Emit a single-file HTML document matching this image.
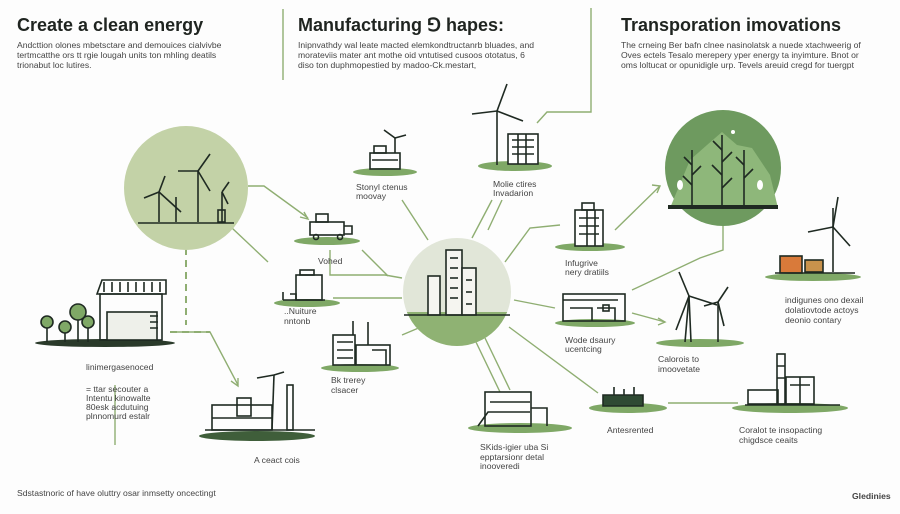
<!DOCTYPE html>
<html><head><meta charset="utf-8"><style>
body{margin:0;background:#fff;}
svg{display:block;font-family:"Liberation Sans",sans-serif;}
.t{font-size:18px;font-weight:bold;fill:#1f2420;}
.b{font-size:8.6px;fill:#444;}
.l{font-size:8.6px;fill:#444;}
.k{stroke:#1f2a22;stroke-width:1.6;fill:none;}
.kf{fill:#1f2a22;}
.g{stroke:#8fae72;stroke-width:1.4;fill:none;}
.e{fill:#7fa866;}
</style></head><body>
<svg width="900" height="514" viewBox="0 0 900 514">
<rect width="900" height="514" fill="#fdfdfd"/>
<text class="t" x="17" y="31">Create a clean energy</text>
<text class="b" x="17" y="48">Andcttion olones mbetsctare and demouices cialvivbe</text>
<text class="b" x="17" y="58">tertmcatthe ors tt rgie lougah units ton mhling deatils</text>
<text class="b" x="17" y="68">trionabut loc lutires.</text>
<line x1="283" y1="9" x2="283" y2="80" stroke="#8fae72" stroke-width="1.4"/>
<text class="t" x="298" y="31">Manufacturing ⅁ hapes:</text>
<text class="b" x="298" y="48">Inipnvathdy wal leate macted elemkondtructanrb bluades, and</text>
<text class="b" x="298" y="58">morateviis mater ant mothe oid vntutised cusoos ototatus, 6</text>
<text class="b" x="298" y="68">diso ton duphmopestied by madoo-Ck.mestart,</text>
<polyline class="g" points="591,8 591,112 547,112 537,123"/>
<text class="t" x="621" y="31">Transporation imovations</text>
<text class="b" x="621" y="48">The crneing Ber bafn clnee nasinolatsk a nuede xtachweerig of</text>
<text class="b" x="621" y="58">Oves ectels Tesalo merepery yper energy ta inyimture. Bnot or</text>
<text class="b" x="621" y="68">oms loltucat or opunidigle urp. Tevels areuid cregd for tuergpt</text>

<g class="g">
<polyline points="248,186 264,186 308,218"/><path d="M300,217 L308,219 L304,212"/>
<line x1="232" y1="228" x2="268" y2="262"/>
<line x1="402" y1="200" x2="428" y2="240"/>
<line x1="492" y1="200" x2="472" y2="238"/>
<line x1="502" y1="200" x2="488" y2="230"/>
<line x1="362" y1="250" x2="388" y2="276"/>
<polyline points="330,250 330,275 385,275 402,278"/>
<line x1="333" y1="298" x2="402" y2="298"/>
<polyline points="402,335 428,324"/><path d="M420,322 L428,324 L423,330"/>
<polyline points="505,262 530,228 560,225"/>
<line x1="514" y1="300" x2="555" y2="308"/>
<line x1="509" y1="327" x2="598" y2="393"/>
<line x1="475" y1="340" x2="500" y2="392"/>
<line x1="485" y1="338" x2="510" y2="390"/>
<line x1="615" y1="230" x2="660" y2="186"/><path d="M652,185 L660,186 L657,193"/>
<line x1="632" y1="313" x2="665" y2="322"/><path d="M658,318 L665,322 L658,325"/>
<line x1="668" y1="403" x2="738" y2="403"/>
<polyline points="723,226 723,250 700,258 632,290"/>
<line x1="115" y1="385" x2="115" y2="445" />
</g>
<g stroke="#8fae72" stroke-width="2" fill="none" stroke-dasharray="7,5">
<line x1="186" y1="248" x2="186" y2="325"/>
<polyline points="170,332 210,332"/>
</g>
<polyline class="g" points="170,332 210,332 238,385"/><path class="g" d="M231,381 L238,386 L238,378"/>

<circle cx="186" cy="188" r="62" fill="#c3d2a7"/>
<g class="k">
<line x1="138" y1="223" x2="234" y2="223"/>
<line x1="159" y1="222" x2="159" y2="192"/><line x1="159" y1="192" x2="144" y2="198"/><line x1="159" y1="192" x2="181" y2="212"/><line x1="159" y1="192" x2="165" y2="176"/>
<line x1="198" y1="222" x2="198" y2="171"/><line x1="198" y1="171" x2="178" y2="171"/><line x1="198" y1="171" x2="210" y2="154"/><line x1="198" y1="171" x2="210" y2="191"/>
<line x1="176" y1="222" x2="176" y2="197"/>
<line x1="222" y1="222" x2="222" y2="192"/><line x1="222" y1="192" x2="229" y2="182"/><line x1="222" y1="192" x2="228" y2="204"/>
<rect x="218" y="210" width="7" height="12"/>
</g>

<clipPath id="cc"><circle cx="457" cy="292" r="54"/></clipPath>
<circle cx="457" cy="292" r="54" fill="#e1e6d8"/>
<rect x="400" y="312" width="120" height="40" fill="#8fb273" clip-path="url(#cc)"/>
<g class="k" stroke-width="1.3">
<rect x="446" y="250" width="16" height="65" fill="#f5f5f0"/>
<rect x="462" y="268" width="14" height="47" fill="#f5f5f0"/>
<rect x="428" y="276" width="12" height="39" fill="#f5f5f0"/>
<line x1="404" y1="315" x2="510" y2="315"/>
<line x1="450" y1="258" x2="458" y2="258"/><line x1="450" y1="268" x2="458" y2="268"/><line x1="450" y1="278" x2="458" y2="278"/><line x1="450" y1="288" x2="458" y2="288"/><line x1="450" y1="298" x2="458" y2="298"/>
<line x1="466" y1="280" x2="472" y2="280"/><line x1="466" y1="292" x2="472" y2="292"/><line x1="466" y1="304" x2="472" y2="304"/>
</g>

<circle cx="723" cy="168" r="58" fill="#6e9a5f"/>
<path d="M670,208 L690,160 L707,145 L722,132 L737,145 L752,148 L770,175 L778,208 Z" fill="#8eb77a"/>
<rect x="668" y="205" width="110" height="4" class="kf"/>
<g class="k" stroke-width="1.4">
<line x1="692" y1="205" x2="692" y2="150"/><line x1="722" y1="205" x2="722" y2="135"/><line x1="744" y1="205" x2="744" y2="150"/>
<path d="M692,165 l-8,-8 M692,175 l9,-9 M692,185 l-9,-9 M722,150 l-9,-9 M722,162 l10,-10 M722,175 l-10,-10 M722,188 l10,-10 M744,165 l-8,-8 M744,178 l9,-9"/>
</g>
<ellipse cx="680" cy="185" rx="3" ry="5" fill="#fff"/><ellipse cx="760" cy="185" rx="3" ry="5" fill="#fff"/><circle cx="733" cy="132" r="2" fill="#fff"/>

<g class="e">
<ellipse cx="515" cy="166" rx="37" ry="5"/>
<ellipse cx="385" cy="172" rx="32" ry="4"/>
<ellipse cx="327" cy="241" rx="33" ry="4"/>
<ellipse cx="590" cy="247" rx="35" ry="4"/>
<ellipse cx="813" cy="277" rx="48" ry="4"/>
<ellipse cx="307" cy="303" rx="33" ry="4"/>
<ellipse cx="105" cy="343" rx="70" ry="4" fill="#2a3a2a"/>
<ellipse cx="360" cy="368" rx="39" ry="4"/>
<ellipse cx="595" cy="323" rx="40" ry="4"/>
<ellipse cx="700" cy="343" rx="44" ry="4"/>
<ellipse cx="257" cy="436" rx="58" ry="5" fill="#3f5e3a"/>
<ellipse cx="520" cy="428" rx="52" ry="5"/>
<ellipse cx="628" cy="408" rx="39" ry="5"/>
<ellipse cx="790" cy="408" rx="58" ry="5"/>
</g>

<g class="k" stroke-width="1.3">
<line x1="497" y1="165" x2="497" y2="111"/><line x1="497" y1="111" x2="472" y2="114"/><line x1="497" y1="111" x2="507" y2="84"/><line x1="497" y1="111" x2="523" y2="121"/>
<rect x="508" y="134" width="30" height="30" fill="#fff"/>
<path d="M512,140h22M512,147h22M512,154h22M518,134v30M526,134v30"/>
<rect x="370" y="153" width="30" height="16"/><rect x="374" y="146" width="12" height="7"/><line x1="395" y1="153" x2="395" y2="138"/><line x1="395" y1="138" x2="384" y2="130"/><line x1="395" y1="138" x2="406" y2="135"/>
<path d="M372,160h26"/>
<rect x="310" y="222" width="34" height="13"/><rect x="316" y="214" width="12" height="8"/><circle cx="316" cy="237" r="2.5"/><circle cx="340" cy="237" r="2.5"/><path d="M344,226h8v8h-8"/>
<rect x="575" y="210" width="28" height="36" fill="#fff"/><rect x="582" y="203" width="12" height="7"/>
<path d="M579,218h20M579,226h20M579,234h20M587,210v36M595,210v36"/>
<rect x="780" y="256" width="22" height="17" fill="#d97a3a"/><rect x="805" y="260" width="18" height="12" fill="#c8924c"/>
<line x1="833" y1="272" x2="833" y2="208"/><line x1="833" y1="227" x2="808" y2="232"/><line x1="833" y1="227" x2="838" y2="197"/><line x1="833" y1="227" x2="850" y2="246"/>
<line x1="775" y1="273" x2="855" y2="273"/>
<rect x="296" y="275" width="26" height="25"/><rect x="300" y="270" width="14" height="5"/><path d="M283,300h42M283,292v8M290,294h6v6"/>
<path d="M97,294 L102,280 L166,280 L166,294 Z" fill="#fff"/><path d="M104,282v10M112,282v10M120,282v10M128,282v10M136,282v10M144,282v10M152,282v10M160,282v10"/>
<rect x="100" y="294" width="62" height="46"/><rect x="107" y="312" width="50" height="28" fill="#eef0ea"/><path d="M150,316h8M150,322h8M150,328h8"/>
<g fill="#7fa866"><circle cx="47" cy="322" r="6"/><circle cx="65" cy="327" r="6"/><circle cx="78" cy="312" r="8"/><circle cx="88" cy="322" r="6"/></g>
<path d="M47,328v14M65,333v9M78,320v22M88,328v14"/>
<rect x="333" y="335" width="22" height="30"/><rect x="356" y="345" width="34" height="20"/><line x1="353" y1="335" x2="353" y2="321"/><line x1="368" y1="345" x2="368" y2="322"/><path d="M337,342h16M337,350h16M337,358h16M372,350h14v15"/>
<rect x="563" y="294" width="62" height="27"/><path d="M563,300h55M570,308h22v13M597,308h18v13"/><rect x="603" y="305" width="6" height="6"/>
<line x1="685" y1="342" x2="689" y2="296"/><line x1="691" y1="342" x2="689" y2="296"/><line x1="689" y1="296" x2="679" y2="272"/><line x1="689" y1="296" x2="676" y2="330"/><line x1="689" y1="296" x2="717" y2="305"/>
<line x1="718" y1="342" x2="718" y2="302"/><line x1="718" y1="302" x2="728" y2="287"/><line x1="718" y1="302" x2="704" y2="306"/><line x1="718" y1="302" x2="724" y2="326"/>
<rect x="212" y="405" width="60" height="25"/><rect x="237" y="398" width="14" height="18"/><line x1="272" y1="430" x2="274" y2="375"/><line x1="274" y1="375" x2="257" y2="378"/><line x1="274" y1="375" x2="284" y2="372"/><rect x="287" y="385" width="6" height="45"/><path d="M205,430h110M212,418h60"/>
<rect x="485" y="392" width="46" height="34"/><path d="M478,426l10,-14h10M490,402h40M490,412h40M531,408h16v18"/>
<path d="M603,395h40v11h-40z" fill="#2f4a33"/><path d="M614,395v-8M624,395v-6M634,395v-8"/>
<rect x="777" y="354" width="8" height="50"/><rect x="748" y="390" width="30" height="14"/><rect x="786" y="377" width="28" height="27"/><path d="M745,405h95M777,366h8M777,378h8M790,385h20M800,377v27"/>
</g>

<text class="l" x="356" y="190">Stonyl ctenus</text><text class="l" x="356" y="199">moovay</text>
<text class="l" x="493" y="187">Molie ctires</text><text class="l" x="493" y="196">Invadarion</text>
<text class="l" x="318" y="264">Vohed</text>
<text class="l" x="284" y="314">..Nuiture</text><text class="l" x="284" y="324">nntonb</text>
<text class="l" x="565" y="266">Infugrive</text><text class="l" x="565" y="275">nery dratiils</text>
<text class="l" x="785" y="303">indigunes ono dexail</text><text class="l" x="785" y="313">dolatiovtode actoys</text><text class="l" x="785" y="323">deonio contary</text>
<text class="l" x="86" y="370">linimergasenoced</text>
<text class="l" x="86" y="392">= ttar secouter a</text><text class="l" x="86" y="401">Intentu kinowalte</text><text class="l" x="86" y="410">80esk acdutuing</text><text class="l" x="86" y="419">plnnomurd estalr</text>
<text class="l" x="331" y="383">Bk trerey</text><text class="l" x="331" y="393">clsacer</text>
<text class="l" x="565" y="343">Wode dsaury</text><text class="l" x="565" y="352">ucentcing</text>
<text class="l" x="658" y="362">Calorois to</text><text class="l" x="658" y="372">imoovetate</text>
<text class="l" x="254" y="463">A ceact cois</text>
<text class="l" x="480" y="450">SKids-igier uba Si</text><text class="l" x="480" y="460">epptarsionr detal</text><text class="l" x="480" y="469">inooveredi</text>
<text class="l" x="607" y="433">Antesrented</text>
<text class="l" x="739" y="433">Coralot te insopacting</text><text class="l" x="739" y="443">chigdsce ceaits</text>
<text class="l" x="17" y="496">Sdstastnoric of have oluttry osar inmsetty oncectingt</text>
<text class="l" x="852" y="499" font-weight="bold" font-size="7.5">Gledinies</text>
</svg>
</body></html>
